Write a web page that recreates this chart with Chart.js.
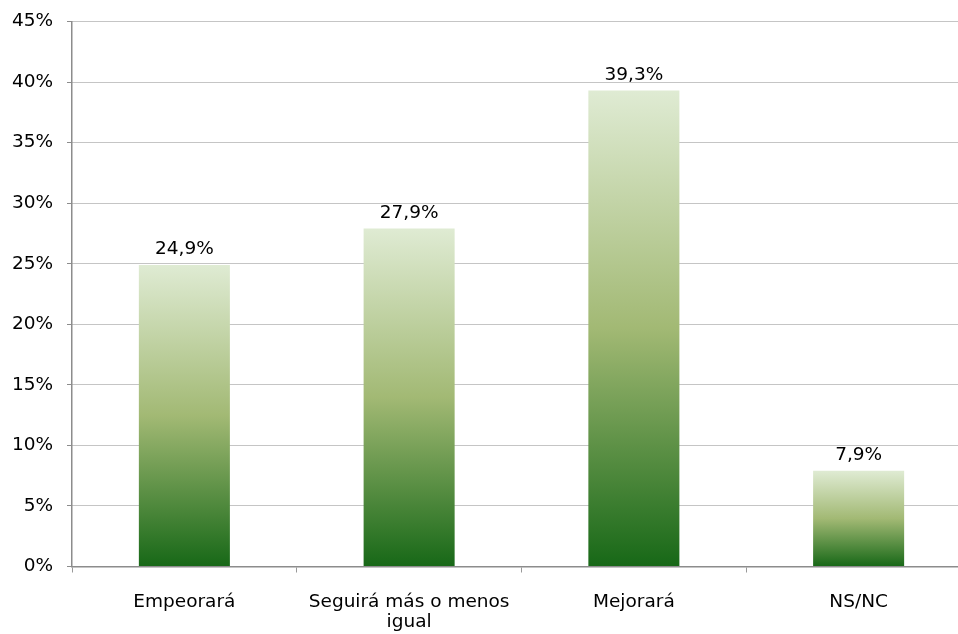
<!DOCTYPE html>
<html>
<head>
<meta charset="utf-8">
<script src="https://cdn.jsdelivr.net/npm/chart.js@4/dist/chart.umd.min.js"></script>
<style>
  html, body { margin: 0; padding: 0; background: #fff; overflow: hidden; width: 958px; height: 634px; }
  #wrap { width: 971px; height: 634px; }
</style>
</head>
<body>
<div id="wrap"><canvas id="c" width="971" height="634"></canvas></div>
<script>
// categorías y valores (%)
const categories = ['Empeorará', ['Seguirá más o menos', 'igual'], 'Mejorará', 'NS/NC']
const values = [24.9, 27.9, 39.3, 7.9]
const yTicks = [0, 5, 10, 15, 20, 25, 30, 35, 40, 45]

const FONT = '"DejaVu Sans", sans-serif'
const FSIZE = 18.5

// degradado vertical por barra: verde claro arriba, verde oscuro abajo
function barGradient(ctx) {
  const chart = ctx.chart
  const y = chart.scales.y
  if (!y || !chart.chartArea || ctx.raw == null) return '#9bb76a'
  const top = y.getPixelForValue(ctx.raw)
  const base = y.getPixelForValue(0)
  if (!isFinite(top) || !isFinite(base)) return '#9bb76a'
  const g = chart.ctx.createLinearGradient(0, top, 0, base)
  g.addColorStop(0, '#dfebd3')
  g.addColorStop(0.5, '#a2b974')
  g.addColorStop(1, '#176817')
  return g
}

// etiquetas de valor encima de cada barra, con coma decimal
const valueLabels = {
  id: 'valueLabels',
  afterDatasetsDraw(chart) {
    const c = chart.ctx
    const meta = chart.getDatasetMeta(0)
    c.save()
    c.font = FSIZE + 'px ' + FONT
    c.fillStyle = '#000'
    c.textAlign = 'center'
    c.textBaseline = 'alphabetic'
    meta.data.forEach((bar, i) => {
      c.fillText(values[i].toFixed(1).replace('.', ',') + '%', bar.x, bar.y - 11)
    })
    c.restore()
  }
}

const chart = new Chart(document.getElementById('c'), {
  type: 'bar',
  data: {
    labels: categories,
    datasets: [{
      data: values,
      backgroundColor: barGradient,
      borderWidth: 0,
      barPercentage: 0.405,
      categoryPercentage: 1
    }]
  },
  plugins: [valueLabels],
  options: {
    responsive: false,
    animation: false,
    devicePixelRatio: 1,
    layout: { padding: { top: 21.5, right: 0, bottom: 0, left: 0 } },
    plugins: { legend: { display: false }, tooltip: { enabled: false } },
    scales: {
      x: {
        grid: { drawOnChartArea: false, offset: true, color: '#999', tickLength: 6 },
        border: { color: '#8c8c8c', width: 1.5 },
        ticks: { color: '#000', font: { family: FONT, size: FSIZE, lineHeight: 1.08 }, padding: 20, maxRotation: 0, autoSkip: false },
        afterFit: s => { s.height = 67.5; s.paddingLeft = 0; s.paddingRight = 0 }
      },
      y: {
        min: 0, max: 45,
        afterBuildTicks: s => { s.ticks = yTicks.map(v => ({ value: v })) },
        grid: { color: '#8a8a8a', tickLength: 5, tickBorderDash: [], tickColor: '#8c8c8c' },
        border: { color: '#8c8c8c', width: 1.5, dash: [1, 1] },
        ticks: { color: '#000', font: { family: FONT, size: FSIZE }, padding: 14, callback: v => v + '%' },
        afterFit: s => { s.width = 72; s.paddingTop = 0; s.paddingBottom = 0 }
      }
    }
  }
})
chart.update()
</script>
</body>
</html>
